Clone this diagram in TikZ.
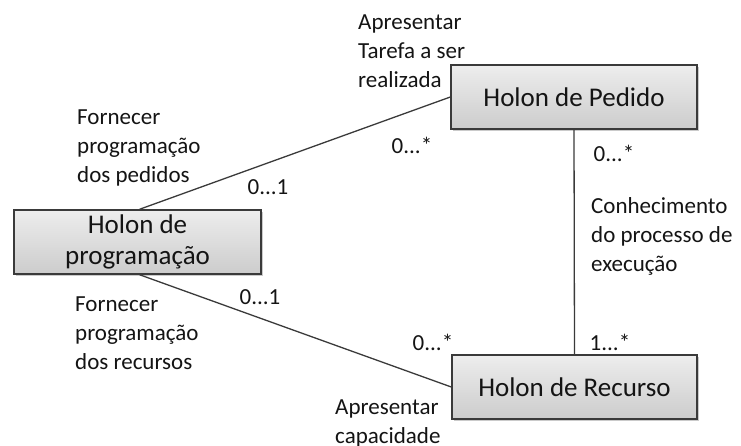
\documentclass[tikz,border=0pt]{standalone}
\usepackage{fontspec}
\setmainfont{Carlito}
\usetikzlibrary{shadows}
\definecolor{txt}{HTML}{141414}
\definecolor{edge}{HTML}{3A3A3A}
\tikzset{
  holon/.style={draw=edge, line width=1.4pt, top color=black!7, bottom color=black!20,
    minimum height=64pt, inner sep=0pt, align=center, text=txt,
    font=\fontsize{27pt}{31pt}\selectfont,
    drop shadow={shadow xshift=2pt, shadow yshift=-2pt, opacity=0.35, fill=black!60}},
  lbl/.style={inner sep=0pt, align=left, anchor=base west, text=txt,
    font=\fontsize{23pt}{29pt}\selectfont},
  mult/.style={inner sep=0pt, text=txt, font=\fontsize{23pt}{28pt}\selectfont},
  conn/.style={draw=edge, line width=1.3pt}
}
\begin{document}
\begin{tikzpicture}[x=1pt,y=-1pt]
\useasboundingbox (0,0) rectangle (741,445);
\node[holon, minimum width=247pt] (prog) at (137.5,242) {Holon de\\programação};
\node[holon, minimum width=246pt] (ped) at (574,97) {Holon de Pedido};
\node[holon, minimum width=245pt] (rec) at (574.5,387) {Holon de Recurso};
\draw[conn] ([xshift=2pt]prog.north) -- (ped.west);
\draw[conn] ([xshift=2pt]prog.south) -- (rec.west);
\draw[conn] (ped.south) -- (rec.north);
\node[lbl] (l1) at (77,182) {Fornecer\\programação\\dos pedidos};
\node[lbl] (l2) at (358,87) {Apresentar\\Tarefa a ser\\realizada};
\node[lbl] (l3) at (591,271) {Conhecimento\\do processo de\\execução};
\node[lbl] (l4) at (75,369) {Fornecer\\programação\\dos recursos};
\node[lbl] (l5) at (335,443) {Apresentar\\capacidade};
\node[mult] (m1) at (268,187) {0...1};
\node[mult] (m2) at (412,145) {0...*};
\node[mult] (m3) at (614,153) {0...*};
\node[mult] (m4) at (260,297) {0...1};
\node[mult] (m5) at (433,342) {0...*};
\node[mult] (m6) at (610,342) {1...*};
\end{tikzpicture}
\end{document}
